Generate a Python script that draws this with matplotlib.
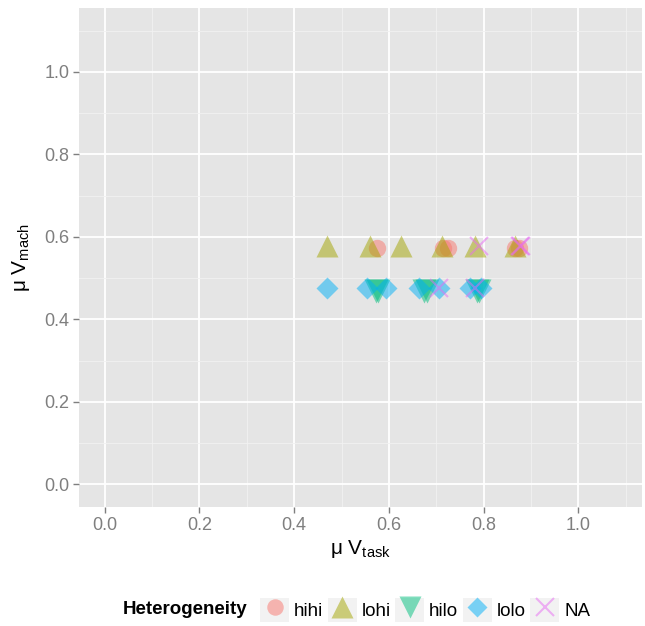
import matplotlib
matplotlib.use("Agg")
import matplotlib.pyplot as plt
from matplotlib.lines import Line2D
from matplotlib.patches import Rectangle
from matplotlib.legend_handler import HandlerTuple
import numpy as np

plt.rcParams['font.family'] = ['Liberation Sans', 'DejaVu Sans']
plt.rcParams['mathtext.fontset'] = 'custom'
plt.rcParams['mathtext.rm'] = 'Liberation Sans'
plt.rcParams['mathtext.it'] = 'Liberation Sans:italic'

# data
hihi_x = [0.574, 0.714, 0.724, 0.867, 0.875]
hihi_y = [0.572, 0.572, 0.572, 0.572, 0.572]
lohi_x = [0.470, 0.561, 0.625, 0.712, 0.782, 0.867]
lohi_y = [0.579, 0.579, 0.579, 0.579, 0.579, 0.579]
hilo_x = [0.572, 0.576, 0.674, 0.681, 0.786, 0.790]
hilo_y = [0.469, 0.469, 0.469, 0.469, 0.469, 0.469]
lolo_x = [0.470, 0.554, 0.593, 0.663, 0.705, 0.772, 0.795]
lolo_y = [0.477, 0.477, 0.477, 0.477, 0.477, 0.477, 0.477]
na_x = [0.789, 0.877, 0.879, 0.705, 0.782]
na_y = [0.577, 0.577, 0.577, 0.477, 0.477]

groups = ['hihi', 'lohi', 'hilo', 'lolo', 'NA']
colors = ['#F8766D', '#A3A500', '#00BF7D', '#00B0F6', '#E76BF3']
markers = ['o', '^', 'v', 'D', 'x']
sizes = [12.5, 16.5, 17, 11.2, 13]
xs = [hihi_x, lohi_x, hilo_x, lolo_x, na_x]
ys = [hihi_y, lohi_y, hilo_y, lolo_y, na_y]

xticks = [0.0, 0.2, 0.4, 0.6, 0.8, 1.0]
yticks = [0.0, 0.2, 0.4, 0.6, 0.8, 1.0]

fig = plt.figure(figsize=(6.45, 6.26), dpi=100)
ax = fig.add_axes([79/645, 1 - 507/626, (642 - 79)/645, (507 - 8)/626])
ax.set_facecolor('#E5E5E5')
for s in ax.spines.values():
    s.set_visible(False)

ax.set_xlim(-0.054, 1.134)
ax.set_ylim(-0.055, 1.155)
ax.set_xticks(xticks)
ax.set_yticks(yticks)
ax.set_xticks(np.arange(0.1, 1.15, 0.2), minor=True)
ax.set_yticks(np.arange(0.1, 1.15, 0.2), minor=True)
ax.grid(which='major', color='white', lw=1.3)
ax.grid(which='minor', color='#F2F2F2', lw=0.6)
ax.set_axisbelow(True)
ax.tick_params(which='major', length=4, width=1, color='#7F7F7F',
               labelcolor='#7F7F7F', labelsize=13, pad=3)
ax.tick_params(which='minor', length=0)
ax.set_xticklabels(['%.1f' % v for v in xticks])
ax.set_yticklabels(['%.1f' % v for v in yticks])

for g, c, m, ms, x, y in zip(groups, colors, markers, sizes, xs, ys):
    if m == 'x':
        ax.plot(x, y, ls='none', marker=m, ms=ms, color=c, mew=1.5, alpha=0.5)
    else:
        ax.plot(x, y, ls='none', marker=m, ms=ms, color=c, mec='none', alpha=0.5)

ax.set_xlabel(r'μ $\mathrm{V_{task}}$', fontsize=15, labelpad=3)
ax.set_ylabel(r'μ $\mathrm{V_{mach}}$', fontsize=15, labelpad=9)

# legend along the bottom
handles = []
for c, m, ms in zip(colors, markers, sizes):
    box = Rectangle((0, 0), 1, 1, facecolor='#F2F2F2', edgecolor='none')
    if m == 'x':
        mk = Line2D([], [], ls='none', marker=m, ms=ms, color=c, mew=1.5, alpha=0.5)
    else:
        mk = Line2D([], [], ls='none', marker=m, ms=ms * 0.95, color=c, mec='none', alpha=0.5)
    handles.append((box, mk))

fig.text(123/645, 1 - 610/626, 'Heterogeneity', fontsize=13.5, fontweight='bold',
         ha='left', va='center')
fig.legend(handles, groups, handler_map={tuple: HandlerTuple(ndivide=1)},
           loc='center left', bbox_to_anchor=(260/645, 1 - 610/626), ncol=5,
           frameon=False, fontsize=13.5, handlelength=1.55, handleheight=1.55,
           handletextpad=0.25, columnspacing=0.25, borderpad=0, borderaxespad=0)

fig.savefig('out.png', dpi=100)
